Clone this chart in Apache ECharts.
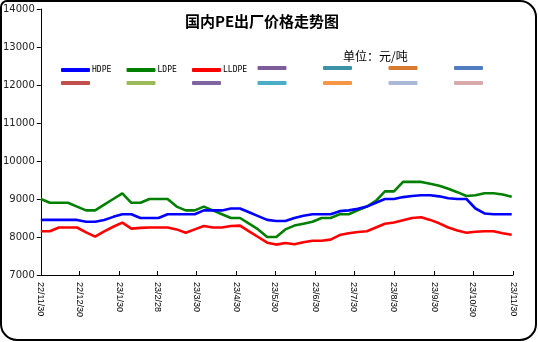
<!DOCTYPE html>
<html><head><meta charset="utf-8">
<script src="https://cdn.jsdelivr.net/npm/echarts@6/dist/echarts.min.js"></script>
<style>html,body{margin:0;padding:0;background:#fff}#c{width:538px;height:342px}</style>
</head><body><div id="c"></div>
<script>
const title = '国内PE出厂价格走势图';
const unitText = '单位：元/吨';
const dates = ['2022-11-30','2022-12-07','2022-12-14','2022-12-21','2022-12-28',
'2023-01-04','2023-01-11','2023-01-18','2023-01-25','2023-02-01','2023-02-08','2023-02-15','2023-02-22',
'2023-03-01','2023-03-08','2023-03-15','2023-03-22','2023-03-29','2023-04-05','2023-04-12','2023-04-19','2023-04-26',
'2023-05-03','2023-05-10','2023-05-17','2023-05-24','2023-05-31','2023-06-07','2023-06-14','2023-06-21','2023-06-28',
'2023-07-05','2023-07-12','2023-07-19','2023-07-26','2023-08-02','2023-08-09','2023-08-16','2023-08-23','2023-08-30',
'2023-09-06','2023-09-13','2023-09-20','2023-09-27','2023-10-04','2023-10-11','2023-10-18','2023-10-25',
'2023-11-01','2023-11-08','2023-11-15','2023-11-22','2023-11-29'];
const hdpe = [8450,8450,8450,8450,8450,8400,8400,8450,8530,8600,8600,8500,8500,8500,8600,8600,8600,8600,8700,8700,8700,8750,8750,8650,8550,8450,8420,8420,8500,8560,8600,8600,8600,8680,8700,8740,8800,8900,9000,9000,9050,9080,9100,9100,9070,9020,9000,9000,8750,8620,8600,8600,8600];
const ldpe = [9000,8900,8900,8900,8800,8700,8700,8850,9000,9150,8900,8900,9000,9000,9000,8800,8700,8700,8800,8700,8600,8500,8500,8350,8200,8000,8000,8200,8300,8350,8400,8500,8500,8600,8600,8700,8800,8950,9200,9200,9450,9450,9450,9400,9350,9270,9180,9080,9100,9150,9150,9120,9060];
const lldpe = [8150,8150,8250,8250,8250,8120,8010,8150,8270,8380,8220,8240,8250,8250,8250,8200,8110,8200,8290,8250,8250,8290,8300,8150,8000,7850,7800,7840,7810,7860,7900,7900,7930,8050,8100,8130,8150,8250,8350,8380,8440,8500,8520,8450,8360,8250,8170,8110,8140,8150,8150,8100,8060];
const tickLabels = ['22/11/30','22/12/30','23/1/30','23/2/28','23/3/30','23/4/30','23/5/30','23/6/30','23/7/30','23/8/30','23/9/30','23/10/30','23/11/30'];
const seriesNames = ['HDPE','LDPE','LLDPE'];
const seriesColors = ['#0000FF','#008000','#FF0000'];
const extraRow1Colors = ['#7E5C9A','#3D93A6','#D97A31','#4F7EC0'];
const extraRow2Colors = ['#C0504D','#9BBB59','#8064A2','#4BACC6','#F79646','#A9B8D6','#D7A9AA'];

const DAY = 86400000;
function toDay(s){const p=s.split('-');return Date.UTC(+p[0],+p[1]-1,+p[2])/DAY;}
function labelDay(s){const p=s.split('/');return Date.UTC(2000+ +p[0],+p[1]-1,+p[2])/DAY;}
const tickDays = tickLabels.map(labelDay);
const labelMap = {}; tickLabels.forEach((l,i)=>labelMap[tickDays[i]]=l);

const valuesArr = [hdpe, ldpe, lldpe];
const series = valuesArr.map((vals,k)=>({
  name: seriesNames[k], type:'line', showSymbol:false, symbol:'none',
  data: vals.map((v,i)=>[toDay(dates[i]), v]),
  lineStyle:{color:seriesColors[k], width:2.6}, itemStyle:{color:seriesColors[k]},
  z: 3-k
}));
const legendItems = [];
seriesNames.forEach((n,k)=>legendItems.push({name:n,color:seriesColors[k],row:0,col:k}));
extraRow1Colors.forEach((c,k)=>legendItems.push({name:'r1_'+k,color:c,row:0,col:3+k}));
extraRow2Colors.forEach((c,k)=>legendItems.push({name:'r2_'+k,color:c,row:1,col:k}));
legendItems.slice(3).forEach(it=>series.push({name:it.name,type:'line',data:[],itemStyle:{color:it.color},lineStyle:{color:it.color}}));

const legends = legendItems.map(it=>({
  data:[{name:it.name, itemStyle:{color:it.color}}],
  left: 61 + it.col*65.5, top: it.row===0 ? 66 : 81,
  itemWidth: 29, itemHeight: 4, itemGap: 0, icon:'roundRect', padding:0,
  selectedMode:false,
  formatter: n => n.startsWith('r') ? '' : n,
  textStyle:{fontSize:8, fontFamily:'DejaVu Sans Mono', color:'#000', padding:[0,0,0,-3]}
}));

const chart = echarts.init(document.getElementById('c'));
chart.setOption({
  animation:false,
  backgroundColor:'#fff',
  title:{text:title, left:257, top:9, textAlign:'center',
    textStyle:{fontSize:15, fontWeight:'bold', fontFamily:'Noto Sans CJK SC', color:'#000'}},
  graphic:[
    {type:'rect', shape:{x:1,y:1,width:535,height:339,r:[6,16,16,16]}, style:{fill:'none',stroke:'#000',lineWidth:2}, silent:true, z:100},
    {type:'text', left:343, top:50, style:{text:unitText, fontSize:12, fontFamily:'Noto Sans CJK SC', fill:'#000'}}
  ],
  legend: legends,
  grid:{left:39, top:9, right:25, bottom:67, containLabel:false},
  xAxis:{type:'value', min:tickDays[0], max:tickDays[tickDays.length-1],
    axisLine:{lineStyle:{color:'#000',width:1}},
    axisTick:{inside:true, length:4, lineStyle:{color:'#000'}, customValues:tickDays},
    axisLabel:{customValues:tickDays, rotate:-90, formatter:v=>labelMap[v]||'', fontSize:9, fontFamily:'Liberation Sans', color:'#000', margin:7},
    splitLine:{show:false}},
  yAxis:{type:'value', min:7000, max:14000, interval:1000,
    axisLine:{show:true, lineStyle:{color:'#000',width:1}},
    axisTick:{show:true, length:4, lineStyle:{color:'#000'}},
    axisLabel:{fontSize:10, fontFamily:'DejaVu Sans', color:'#222', margin:6, formatter:v=>String(v)},
    splitLine:{show:false}},
  series: series
});
</script></body></html>
